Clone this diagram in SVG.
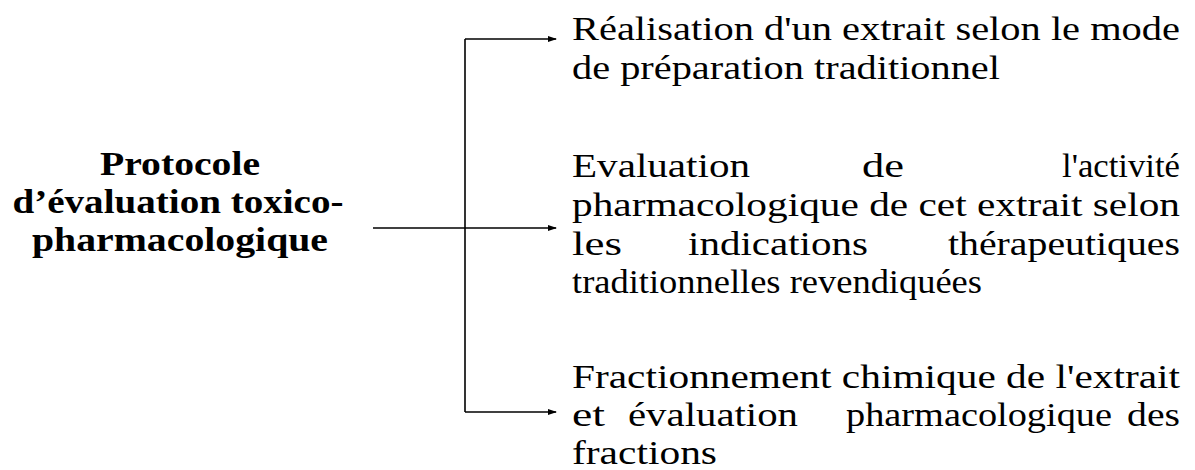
<svg xmlns="http://www.w3.org/2000/svg" width="1195" height="470" viewBox="0 0 1195 470">
<defs>
<marker id="arr" markerWidth="9" markerHeight="6" refX="8" refY="3" orient="auto" markerUnits="userSpaceOnUse">
<path d="M0,0 L9,3 L0,6 Z" fill="#000"/>
</marker>
<style>
.t{font-family:"Liberation Serif","Times New Roman",serif;font-size:34px;fill:#000}
.b{font-family:"Liberation Serif","Times New Roman",serif;font-size:34px;font-weight:bold;fill:#000;text-anchor:middle}
.c{stroke:#000;stroke-width:1.6;fill:none}
</style>
</defs>
<rect width="1195" height="470" fill="#fff"/>
<g id="root">
<text class="b" x="180" y="175" textLength="160" lengthAdjust="spacingAndGlyphs">Protocole</text>
<text class="b" x="178" y="213" textLength="331" lengthAdjust="spacingAndGlyphs">d’évaluation toxico-</text>
<text class="b" x="180" y="251" textLength="296" lengthAdjust="spacingAndGlyphs">pharmacologique</text>
</g>
<g id="connectors">
<path class="c" d="M373,228 H465" stroke-width="2.6"/>
<path class="c" d="M465,39 V412"/>
<path class="c" d="M465,39 H556" marker-end="url(#arr)"/>
<path class="c" d="M465,228 H556" marker-end="url(#arr)"/>
<path class="c" d="M465,412 H556" marker-end="url(#arr)"/>
</g>
<g id="n1">
<text class="t" x="572" y="40" textLength="608" lengthAdjust="spacingAndGlyphs">Réalisation d'un extrait selon le mode</text>
<text class="t" x="572" y="79" textLength="428" lengthAdjust="spacingAndGlyphs">de préparation traditionnel</text>
</g>
<g id="n2">
<text class="t" x="572" y="177" textLength="178" lengthAdjust="spacingAndGlyphs">Evaluation</text>
<text class="t" x="862" y="177" textLength="42" lengthAdjust="spacingAndGlyphs">de</text>
<text class="t" x="1062" y="177" textLength="118" lengthAdjust="spacingAndGlyphs">l'activité</text>
<text class="t" x="572" y="216" textLength="608" lengthAdjust="spacingAndGlyphs">pharmacologique de cet extrait selon</text>
<text class="t" x="572" y="255" textLength="50" lengthAdjust="spacingAndGlyphs">les</text>
<text class="t" x="688" y="255" textLength="180" lengthAdjust="spacingAndGlyphs">indications</text>
<text class="t" x="948" y="255" textLength="232" lengthAdjust="spacingAndGlyphs">thérapeutiques</text>
<text class="t" x="572" y="293" textLength="410" lengthAdjust="spacingAndGlyphs">traditionnelles revendiquées</text>
</g>
<g id="n3">
<text class="t" x="572" y="388" textLength="608" lengthAdjust="spacingAndGlyphs">Fractionnement chimique de l'extrait</text>
<text class="t" x="572" y="426" textLength="33" lengthAdjust="spacingAndGlyphs">et</text>
<text class="t" x="628" y="426" textLength="170" lengthAdjust="spacingAndGlyphs">évaluation</text>
<text class="t" x="846" y="426" textLength="266" lengthAdjust="spacingAndGlyphs">pharmacologique</text>
<text class="t" x="1127" y="426" textLength="53" lengthAdjust="spacingAndGlyphs">des</text>
<text class="t" x="572" y="464" textLength="145" lengthAdjust="spacingAndGlyphs">fractions</text>
</g>
</svg>
